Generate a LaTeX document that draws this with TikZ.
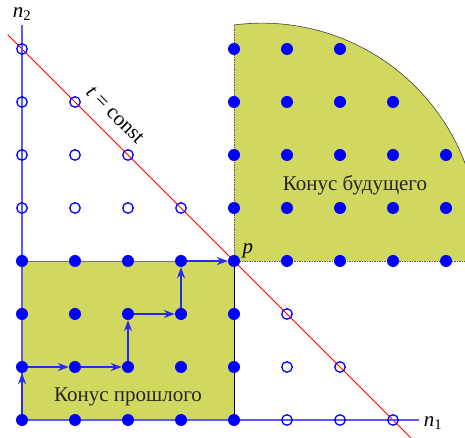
\documentclass[tikz,border=0pt]{standalone}
\usepackage{fontspec}
\setmainfont{Liberation Serif}
\usetikzlibrary{arrows.meta}
\definecolor{cone}{RGB}{208,216,96}
\definecolor{axblue}{RGB}{90,90,255}
\definecolor{pathblue}{RGB}{40,40,240}
\begin{document}
\begin{tikzpicture}[x=53pt,y=53pt,
  dot/.style={circle,fill=blue,inner sep=0pt,minimum size=12pt},
  odot/.style={circle,draw=blue,line width=1.3pt,inner sep=0pt,minimum size=10.5pt},
  pathar/.style={draw=pathblue,line width=1.1pt,-{Stealth[length=11pt,width=8pt]}},
  axis/.style={draw=axblue,line width=1.5pt},
  coneedge/.style={draw=black!65,line width=0.6pt,dash pattern=on 1.5pt off 1pt},
  lbl/.style={font=\fontsize{21}{25}\selectfont,inner sep=0pt}]
\useasboundingbox (-22pt,-18pt) rectangle (443pt,420pt);
\begin{scope}
  \clip (-22pt,-18pt) rectangle (443pt,420pt);
  % future cone
  \coordinate (fc0) at (4,3);
  \coordinate (fc1) at (4,7.453);
  \coordinate (fc2) at (8.7,3);
  \fill[cone] (fc0) -- (fc1) arc[start angle=97.45,end angle=-5.52,radius=4.094] -- cycle;
  \draw[black!75,line width=0.6pt] (fc1) arc[start angle=97.45,end angle=-5.52,radius=4.094];
  \draw[coneedge] (fc0) -- (fc1);
  \draw[coneedge] (fc0) -- (fc2);
  % past cone
  \fill[cone] (0,0) rectangle (4,3);
  \draw[black!55,line width=0.8pt] (0,3) -- (3,3);
  \draw[black,line width=0.8pt] (4,0) -- (4,3);
  % t = const line
  \coordinate (r0) at (-0.27,7.27);
  \coordinate (r1) at (7.45,-0.45);
  \draw[red,line width=0.8pt] (r0) -- (r1);
\end{scope}
% axes
\coordinate (o) at (0,0);
\coordinate (ytop) at (0,7.45);
\coordinate (xend) at (7.49,0);
\draw[axis] (o) -- (ytop);
\draw[axis] (o) -- (xend);
% filled dots: past cone
\foreach \i in {0,...,4}
  \foreach \j in {0,...,3}
    \node[dot] (d-\i-\j) at (\i,\j) {};
% filled dots: future cone
\foreach \i/\j in {5/3,6/3,7/3,8/3,
                   4/4,5/4,6/4,7/4,8/4,
                   4/5,5/5,6/5,7/5,8/5,
                   4/6,5/6,6/6,7/6,
                   4/7,5/7,6/7}
  \node[dot] (d-\i-\j) at (\i,\j) {};
% open circles
\foreach \i/\j in {0/4,0/5,0/6,0/7,1/4,1/5,1/6,2/4,2/5,3/4,
                   5/0,6/0,7/0,5/1,6/1,5/2}
  \node[odot] (o-\i-\j) at (\i,\j) {};
% path
\draw[pathar] (d-0-0) -- (d-0-1);
\draw[pathar] (d-0-1) -- (d-1-1);
\draw[pathar] (d-1-1) -- (d-2-1);
\draw[pathar] (d-2-1) -- (d-2-2);
\draw[pathar] (d-2-2) -- (d-3-2);
\draw[pathar] (d-3-2) -- (d-3-3);
\draw[pathar] (d-3-3) -- (d-4-3);
% labels
\node[lbl] (ln2) at (0,7.66) {\textit{n}\textsubscript{2}};
\node[lbl] (ln1) at (7.755,-0.05) {\textit{n}\textsubscript{1}};
\node[lbl] (lp) at (4.264,3.19) {\textit{p}};
\node[lbl,rotate=-45] (ltc) at (1.755,5.755) {\textit{t} = const};
\node[lbl,text=black!85] (lfut) at (6.283,4.434) {Конус будущего};
\node[lbl,text=black!85] (lpast) at (2.0,0.434) {Конус прошлого};
\end{tikzpicture}
\end{document}
